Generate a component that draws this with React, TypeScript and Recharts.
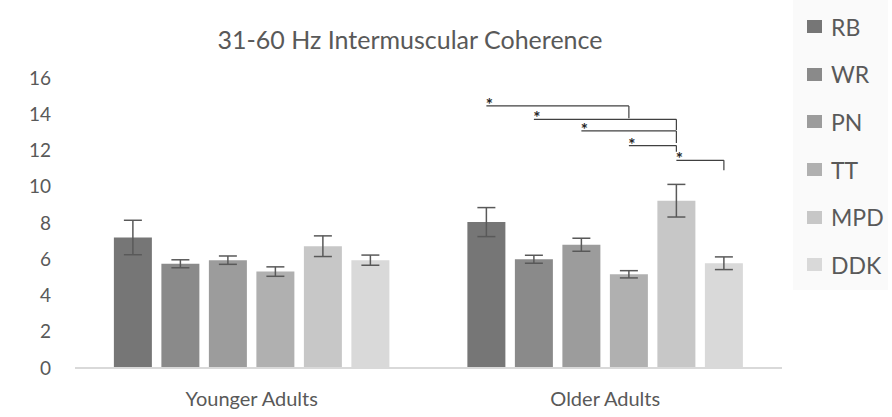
import { BarChart, Bar, XAxis, YAxis, ErrorBar, Legend, ReferenceLine, ReferenceDot } from "recharts"

const groups = ["Younger Adults", "Older Adults"]
const tasks = ["RB", "WR", "PN", "TT", "MPD", "DDK"]
const taskColors = ["#767676", "#8a8a8a", "#9c9c9c", "#b0b0b0", "#c7c7c7", "#d9d9d9"]

// mean coherence per task, [younger, older]
const rbMean = [7.2, 8.05]
const wrMean = [5.75, 6.0]
const pnMean = [5.95, 6.8]
const ttMean = [5.32, 5.17]
const mpdMean = [6.72, 9.23]
const ddkMean = [5.95, 5.78]

// standard error per task, [younger, older]
const rbErr = [0.95, 0.8]
const wrErr = [0.22, 0.22]
const pnErr = [0.23, 0.36]
const ttErr = [0.26, 0.2]
const mpdErr = [0.57, 0.9]
const ddkErr = [0.28, 0.35]

const yTicks = [0, 2, 4, 6, 8, 10, 12, 14, 16]

// significant pairs in the older group: bar line height and end drop
const sigFrom = ["RB", "WR", "PN", "TT", "MPD"]
const sigTo = ["TT", "MPD", "MPD", "MPD", "DDK"]
const sigLineY = [14.46, 13.72, 13.08, 12.27, 11.46]
const sigDropY = [13.78, 13.13, 12.41, 11.93, 10.91]

const means = [rbMean, wrMean, pnMean, ttMean, mpdMean, ddkMean]
const errs = [rbErr, wrErr, pnErr, ttErr, mpdErr, ddkErr]

// groups sit at 0.5 and 1.5 on a numeric x axis so the brackets can share it
const data = groups.map((group, g) => {
  const row: Record<string, string | number> = { group, pos: g + 0.5 }
  tasks.forEach((t, i) => {
    row[t] = means[i][g]
    row[t + "_err"] = errs[i][g]
  })
  return row
})
const xTicks = groups.map((_, g) => g + 0.5)

const FONT = "Lato, 'Noto Sans', sans-serif"
const TEXT = "#595959"

const W = 892
const H = 417
const margin = { top: 78, right: 110, bottom: 19, left: 0 }
const Y_AXIS_W = 75
const CAT_GAP = 0.11
const BAR_GAP = 9.5

const plotW = W - margin.left - margin.right - Y_AXIS_W
const band = plotW / groups.length
const gapPx = band * CAT_GAP
const barW = Math.floor((band - 2 * gapPx - (tasks.length - 1) * BAR_GAP) / tasks.length)
const barCenter = (g: number, task: string) =>
  g + (gapPx + tasks.indexOf(task) * (barW + BAR_GAP) + barW / 2) / band

const Star = (props: any) => (
  <text x={props.cx + 3} y={props.cy + 5} textAnchor="middle" fontSize={17} fontWeight="bold" fontFamily={FONT} fill="#262626">
    *
  </text>
)

const TaskLegend = () => (
  <div style={{ fontFamily: FONT, color: TEXT, fontSize: 23, background: "#fafafa", width: 95, height: 290, paddingTop: 3, boxSizing: "border-box" }}>
    {tasks.map((t, i) => (
      <div key={t} style={{ height: 47.6, display: "flex", alignItems: "center", paddingLeft: 14 }}>
        <div style={{ width: 15, height: 13, background: taskColors[i], marginRight: 9 }} />
        <span>{t}</span>
      </div>
    ))}
  </div>
)

const bracketMarks = sigFrom.flatMap((from, k) => {
  const x1 = barCenter(1, from)
  const x2 = barCenter(1, sigTo[k])
  return [
    <ReferenceLine
      key={`h${k}`}
      segment={[{ x: x1, y: sigLineY[k] }, { x: x2, y: sigLineY[k] }]}
      stroke="#404040"
      strokeWidth={1.2}
    />,
    <ReferenceLine
      key={`v${k}`}
      segment={[{ x: x2, y: sigLineY[k] }, { x: x2, y: sigDropY[k] }]}
      stroke="#404040"
      strokeWidth={1.2}
    />,
    <ReferenceDot key={`s${k}`} x={x1} y={sigLineY[k]} r={0} shape={Star} />,
  ]
})

export default function App() {
  return (
    <div style={{ position: "absolute", left: 0, top: 0, width: W, height: H, background: "#fff" }}>
      <BarChart width={W} height={H} data={data} margin={margin} barCategoryGap={`${CAT_GAP * 100}%`} barGap={BAR_GAP}>
        <XAxis
          dataKey="pos"
          type="number"
          domain={[0, groups.length]}
          allowDataOverflow
          ticks={xTicks}
          interval={0}
          tickFormatter={(v: number) => groups[Math.floor(v)]}
          tickLine={false}
          tickSize={0}
          tickMargin={24}
          height={30}
          axisLine={{ stroke: "#d9d9d9", strokeWidth: 2 }}
          tick={{ fill: TEXT, fontSize: 20, fontFamily: FONT }}
        />
        <YAxis
          width={Y_AXIS_W}
          domain={[0, 16]}
          ticks={yTicks}
          interval={0}
          axisLine={false}
          tickLine={false}
          tickSize={0}
          tickMargin={24}
          tick={{ fill: TEXT, fontSize: 19, fontFamily: FONT }}
        />
        <Legend
          layout="horizontal"
          align="center"
          verticalAlign="middle"
          wrapperStyle={{ left: 793, top: 0, width: 95 }}
          content={() => <TaskLegend />}
        />
        {tasks.map((t, i) => (
          <Bar key={t} dataKey={t} name={t} fill={taskColors[i]} isAnimationActive={false}>
            <ErrorBar dataKey={t + "_err"} width={9} strokeWidth={1.5} stroke="#595959" />
          </Bar>
        ))}
        {bracketMarks}
      </BarChart>
      <svg width={W} height={60} style={{ position: "absolute", left: 0, top: 0, pointerEvents: "none" }}>
        <text x={410} y={49} textAnchor="middle" fontSize={25} fontFamily={FONT} fill={TEXT}>
          31-60 Hz Intermuscular Coherence
        </text>
      </svg>
    </div>
  )
}
